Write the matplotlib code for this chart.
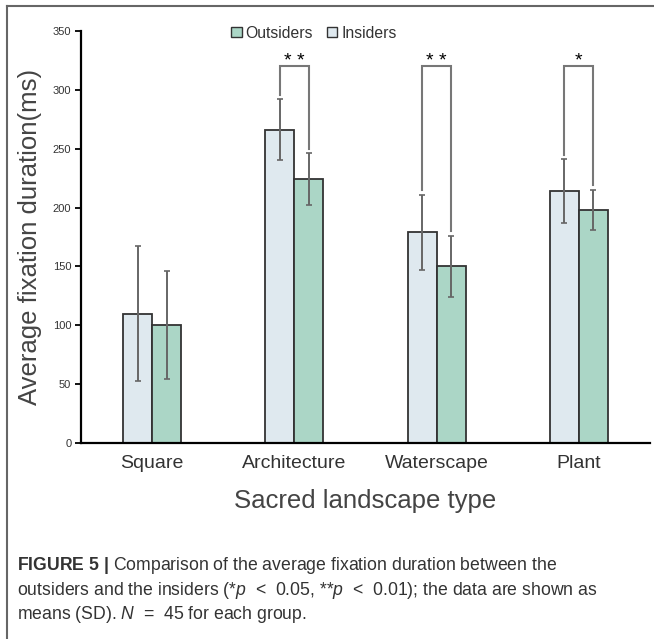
import matplotlib
matplotlib.use("Agg")
import matplotlib.pyplot as plt
from matplotlib.patches import Patch
from matplotlib.lines import Line2D
import numpy as np

plt.rcParams['font.family'] = ['Liberation Sans', 'DejaVu Sans']
plt.rcParams['mathtext.fontset'] = 'custom'
plt.rcParams['mathtext.rm'] = 'Liberation Sans'
plt.rcParams['mathtext.it'] = 'Liberation Sans:italic'
plt.rcParams['mathtext.bf'] = 'Liberation Sans:bold'

categories = ["Square", "Architecture", "Waterscape", "Plant"]
insiders_mean = [110, 266, 179, 214]
insiders_sd = [57, 26, 32, 27]
outsiders_mean = [100, 224, 150, 198]
outsiders_sd = [46, 22, 26, 17]
significance = ["", "* *", "* *", "*"]
bracket_top = 320

light_c = "#dfe9ef"
green_c = "#abd6c6"

fig = plt.figure(figsize=(6.54, 6.39), dpi=100)
ax = fig.add_axes([81/654, 1-443/639, (650-81)/654, (443-31)/639])

x = np.arange(len(categories))
w = 0.204
xi = x - w/2
xo = x + w/2
ax.bar(xi, insiders_mean, width=w, color=light_c, edgecolor="#333333", linewidth=1.3, zorder=2)
ax.bar(xo, outsiders_mean, width=w, color=green_c, edgecolor="#333333", linewidth=1.3, zorder=2)
ax.errorbar(xi, insiders_mean, yerr=insiders_sd, fmt='none', ecolor="#666666", elinewidth=1.4, capsize=2, capthick=1.2, zorder=3)
ax.errorbar(xo, outsiders_mean, yerr=outsiders_sd, fmt='none', ecolor="#666666", elinewidth=1.4, capsize=2, capthick=1.2, zorder=3)

gap = 4
for i, s in enumerate(significance):
    if not s:
        continue
    y1 = insiders_mean[i] + insiders_sd[i] + gap
    y2 = outsiders_mean[i] + outsiders_sd[i] + gap
    ax.plot([xi[i], xi[i], xo[i], xo[i]], [y1, bracket_top, bracket_top, y2],
            color="#777777", lw=1.5, zorder=3, solid_joinstyle='miter')
    ax.text(x[i], bracket_top - 3, s, ha='center', va='bottom', fontsize=14,
            color='black')

ax.set_xlim(-0.5, 3.5)
ax.set_ylim(0, 350)
ax.set_yticks(np.arange(0, 351, 50))
ax.set_xticks(x)
ax.set_xticklabels(categories, fontsize=14, color="#333333")
ax.tick_params(axis='x', length=0, pad=9)
ax.tick_params(axis='y', length=4, width=1.3, labelsize=8, labelcolor="#333333", pad=3)
for sp in ['top', 'right']:
    ax.spines[sp].set_visible(False)
for sp in ['left', 'bottom']:
    ax.spines[sp].set_linewidth(1.6)
    ax.spines[sp].set_color('black')
ax.spines['bottom'].set_bounds(-0.5, 3.5)

ax.set_ylabel("Average fixation duration(ms)", fontsize=18.5, color="#444444", labelpad=8)
ax.set_xlabel("Sacred landscape type", fontsize=18.5, color="#444444", labelpad=12)

handles = [Patch(facecolor=green_c, edgecolor="#333333", linewidth=1.0),
           Patch(facecolor=light_c, edgecolor="#333333", linewidth=1.0)]
fig.legend(handles, ["Outsiders", "Insiders"], loc='center',
           bbox_to_anchor=(314/654, 1-33/639), ncol=2, frameon=False,
           handlelength=0.65, handleheight=0.65, handletextpad=0.25,
           columnspacing=0.9, fontsize=11.3, labelcolor="#333333")

# caption
cap_color = "#333333"
cap_fs = 12.7
fig.text(17/654, 1-570/639, r"$\mathbf{FIGURE\ 5\ |}$ Comparison of the average fixation duration between the",
         fontsize=cap_fs, color=cap_color, va='baseline', ha='left')
fig.text(17/654, 1-595/639, r"outsiders and the insiders (*$p$  <  0.05, **$p$  <  0.01); the data are shown as",
         fontsize=cap_fs, color=cap_color, va='baseline', ha='left')
fig.text(17/654, 1-619/639, r"means (SD). $N$  =  45 for each group.",
         fontsize=cap_fs, color=cap_color, va='baseline', ha='left')

# frame lines (left and top)
fig.add_artist(Line2D([7/654, 7/654], [0, 1-6/639], transform=fig.transFigure, color="#666666", lw=1.5))
fig.add_artist(Line2D([7/654, 1], [1-6/639, 1-6/639], transform=fig.transFigure, color="#666666", lw=1.5))

fig.savefig("out.png", dpi=100)
